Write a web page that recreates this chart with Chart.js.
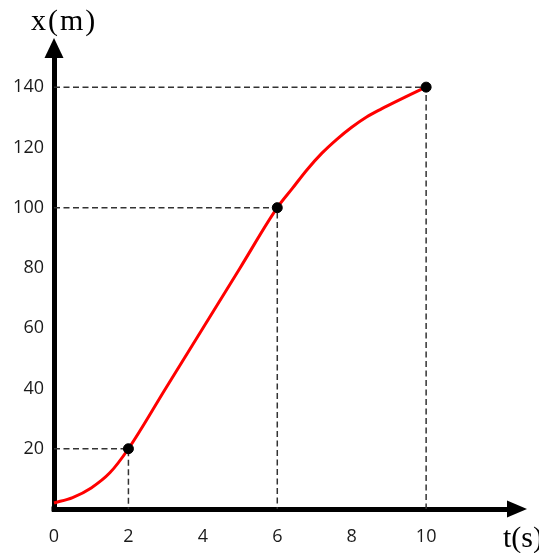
<!DOCTYPE html>
<html>
<head>
<meta charset="utf-8">
<script src="https://cdn.jsdelivr.net/npm/chart.js@4/dist/chart.umd.min.js"></script>
<style>
  body { margin: 0; background: #fff; }
  #wrap { position: relative; width: 539px; height: 553px; }
</style>
</head>
<body>
<div id="wrap"><canvas id="chart"></canvas></div>
<script>
// position-time curve
const curveT = [0, 0.5, 1, 1.5, 2, 3, 4, 5, 6, 6.4, 6.8, 7.2, 7.6, 8, 8.4, 8.8, 9.2, 9.6, 10];
const curveX = [2, 3.8, 7, 12, 20, 40, 60, 80, 100, 106.3, 112.6, 118.1, 122.7, 126.7, 130.1, 132.8, 135.3, 137.7, 140];

// marked points with dashed guides
const markT = [2, 6, 10];
const markX = [20, 100, 140];

const tTicks = [0, 2, 4, 6, 8, 10];
const xTicks = [20, 40, 60, 80, 100, 120, 140];

const tMax = 12.2;
const xMax = 150;

const tickFont = { family: "'Open Sans'", size: 18 };

const guides = markT.map((t, i) => ({
  type: "line",
  data: [{ x: 0, y: markX[i] }, { x: t, y: markX[i] }, { x: t, y: 0 }],
  borderColor: "#333",
  borderWidth: 1.5,
  borderDash: [6, 3.5],
  pointRadius: 0,
  tension: 0,
  clip: false,
  order: 3,
}));

const axisDecor = {
  id: "axisDecor",
  afterDraw(chart) {
    const ctx = chart.ctx;
    const a = chart.chartArea;
    ctx.save();
    ctx.fillStyle = "#000";
    // y arrow
    ctx.beginPath();
    ctx.moveTo(a.left, a.top - 19);
    ctx.lineTo(a.left - 9.5, a.top + 1);
    ctx.lineTo(a.left + 9.5, a.top + 1);
    ctx.closePath();
    ctx.fill();
    // x arrow
    ctx.beginPath();
    ctx.moveTo(a.right + 19, a.bottom);
    ctx.lineTo(a.right - 1, a.bottom - 8.5);
    ctx.lineTo(a.right - 1, a.bottom + 8.5);
    ctx.closePath();
    ctx.fill();
    ctx.fillRect(a.left - 2.5, a.bottom - 2.5, 5, 5);
    // axis names
    ctx.font = "30px 'Liberation Serif'";
    ctx.textBaseline = "alphabetic";
    ctx.letterSpacing = "2px";
    ctx.fillText("x(m)", 31, 30);
    ctx.letterSpacing = "0px";
    ctx.fillText("t(s)", 503, 547);
    ctx.restore();
  },
};

new Chart(document.getElementById("chart"), {
  type: "scatter",
  data: {
    datasets: [
      {
        type: "scatter",
        data: markT.map((t, i) => ({ x: t, y: markX[i] })),
        backgroundColor: "#000",
        borderColor: "#000",
        pointRadius: 5,
        pointHoverRadius: 5,
        clip: false,
        order: 1,
      },
      {
        type: "line",
        data: curveT.map((t, i) => ({ x: t, y: curveX[i] })),
        borderColor: "#ff0000",
        borderWidth: 3,
        pointRadius: 0,
        cubicInterpolationMode: "monotone",
        clip: false,
        order: 2,
      },
      ...guides,
    ],
  },
  options: {
    responsive: true,
    maintainAspectRatio: false,
    animation: false,
    events: [],
    layout: { padding: { top: 57, right: 31, left: 0, bottom: 0 } },
    plugins: { legend: { display: false }, tooltip: { enabled: false } },
    scales: {
      x: {
        type: "linear",
        min: 0,
        max: tMax,
        grid: { display: false, drawTicks: false },
        border: { display: true, color: "#000", width: 5 },
        afterBuildTicks: (s) => { s.ticks = tTicks.map((v) => ({ value: v })); },
        afterFit: (s) => { s.height = 44; },
        ticks: { color: "#1a1a1a", font: tickFont, padding: 17, maxRotation: 0 },
      },
      y: {
        type: "linear",
        min: 0,
        max: xMax,
        grid: { display: false, drawTicks: false },
        border: { display: true, color: "#000", width: 5 },
        afterBuildTicks: (s) => { s.ticks = xTicks.map((v) => ({ value: v })); },
        afterFit: (s) => { s.width = 54; },
        ticks: { color: "#1a1a1a", font: tickFont, padding: 10 },
      },
    },
  },
  plugins: [axisDecor],
});
</script>
</body>
</html>
